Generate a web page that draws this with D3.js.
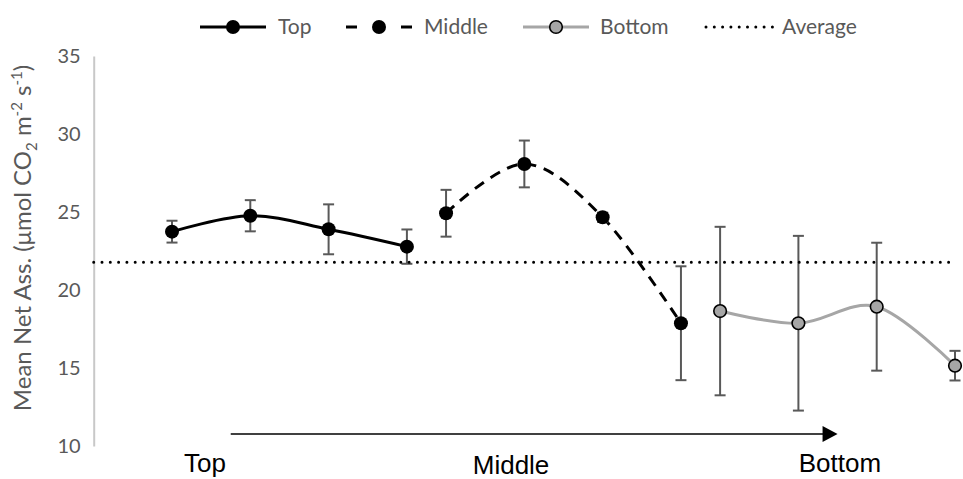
<!DOCTYPE html>
<html>
<head>
<meta charset="utf-8">
<script src="https://cdn.jsdelivr.net/npm/d3@7"></script>
<style>
  body { margin: 0; background: #fff; }
  svg { display: block; }
</style>
</head>
<body>
<script>
const width = 963
const height = 479

// data
const topX = [1, 2, 3, 4]
const topY = [23.74, 24.76, 23.89, 22.78]
const topErr = [0.7, 1.0, 1.6, 1.1]

const midX = [4.5, 5.5, 6.5, 7.5]
const midY = [24.92, 28.08, 24.66, 17.87]
const midErr = [1.5, 1.5, 0.3, 3.65]

const botX = [8, 9, 10, 11]
const botY = [18.65, 17.87, 18.93, 15.15]
const botErr = [5.4, 5.6, 4.1, 0.95]

const average = 21.78
const yTicks = [10, 15, 20, 25, 30, 35]
const legendNames = ["Top", "Middle", "Bottom", "Average"]
const zoneNames = ["Top", "Middle", "Bottom"]
const zoneX = [1.42, 5.33, 9.53]
const arrowX = [1.75, 9.5]

const x = d3.scaleLinear().domain([0, 11]).range([93.7, 955])
const y = d3.scaleLinear().domain([10, 35]).range([446, 56])

const svg = d3.select("body").append("svg")
    .attr("width", width)
    .attr("height", height)

svg.append("rect").attr("width", width).attr("height", height).attr("fill", "#fff")

const font = "Lato, 'Open Sans', sans-serif"
const grey = "#595959"

// y axis
const yAxis = svg.append("g")
    .attr("transform", `translate(${x(0)},0)`)
    .call(d3.axisLeft(y).tickValues(yTicks).tickSize(0).tickPadding(13))
yAxis.select(".domain").attr("stroke", "#c8c8c8").attr("stroke-width", 2)
yAxis.selectAll("text")
    .attr("font-family", font)
    .attr("font-size", 20)
    .attr("fill", grey)

// y axis title
const title = svg.append("text")
    .attr("transform", `translate(31,238) rotate(-90)`)
    .attr("text-anchor", "middle")
    .attr("font-family", font)
    .attr("font-size", 24)
    .attr("fill", grey)
title.append("tspan").text("Mean Net Ass. (μmol CO")
title.append("tspan").text("2").attr("font-size", 15).attr("dy", 6)
title.append("tspan").text(" m").attr("dy", -6)
title.append("tspan").text("-2").attr("font-size", 15).attr("dy", -9)
title.append("tspan").text(" s").attr("dy", 9)
title.append("tspan").text("-1").attr("font-size", 15).attr("dy", -9)
title.append("tspan").text(")").attr("dy", 9)

const smooth = d3.line()
    .x(d => x(d[0]))
    .y(d => y(d[1]))
    .curve(d3.curveCardinal.tension(0))

const series = [
  {xs: topX, ys: topY, err: topErr, stroke: "#000", dash: null, fill: "#000", r: 7, ring: null},
  {xs: midX, ys: midY, err: midErr, stroke: "#000", dash: "11,8", fill: "#000", r: 7, ring: null},
  {xs: botX, ys: botY, err: botErr, stroke: "#a6a6a6", dash: null, fill: "#a6a6a6", r: 6.3, ring: "#000"}
]

series.forEach(s => {
  const pts = s.xs.map((v, i) => [v, s.ys[i], s.err[i]])
  svg.append("path")
      .datum(pts)
      .attr("d", smooth)
      .attr("fill", "none")
      .attr("stroke", s.stroke)
      .attr("stroke-width", 3)
      .attr("stroke-dasharray", s.dash)

  const eb = svg.append("g").attr("stroke", grey).attr("stroke-width", 2)
  pts.forEach(p => {
    const cx = x(p[0])
    eb.append("line").attr("x1", cx).attr("x2", cx).attr("y1", y(p[1] - p[2])).attr("y2", y(p[1] + p[2]))
    eb.append("line").attr("x1", cx - 5.5).attr("x2", cx + 5.5).attr("y1", y(p[1] - p[2])).attr("y2", y(p[1] - p[2]))
    eb.append("line").attr("x1", cx - 5.5).attr("x2", cx + 5.5).attr("y1", y(p[1] + p[2])).attr("y2", y(p[1] + p[2]))
  })

  svg.append("g").selectAll("circle")
    .data(pts)
    .join("circle")
      .attr("cx", d => x(d[0]))
      .attr("cy", d => y(d[1]))
      .attr("r", s.r)
      .attr("fill", s.fill)
      .attr("stroke", s.ring)
      .attr("stroke-width", s.ring ? 1.6 : 0)
})

// average line
svg.append("line")
    .attr("x1", x(0)).attr("x2", x(11))
    .attr("y1", y(average)).attr("y2", y(average))
    .attr("stroke", "#000")
    .attr("stroke-width", 3)
    .attr("stroke-linecap", "round")
    .attr("stroke-dasharray", "0,8.3")

// legend
const legendY = 27
const legendItems = [
  {x0: 200, tx: 278},
  {x0: 346, tx: 424},
  {x0: 523, tx: 600},
  {x0: 704, tx: 782}
]
legendItems.forEach((it, i) => {
  const g = svg.append("g")
  if (i < 3) {
    const s = series[i]
    g.append("line")
        .attr("x1", it.x0).attr("x2", it.x0 + 66)
        .attr("y1", legendY).attr("y2", legendY)
        .attr("stroke", s.stroke).attr("stroke-width", 3)
        .attr("stroke-dasharray", s.dash ? "11,44,11" : null)
    g.append("circle")
        .attr("cx", it.x0 + 33).attr("cy", legendY).attr("r", s.r)
        .attr("fill", s.fill).attr("stroke", s.ring).attr("stroke-width", s.ring ? 1.6 : 0)
  } else {
    g.append("line")
        .attr("x1", it.x0 + 2).attr("x2", it.x0 + 72)
        .attr("y1", legendY).attr("y2", legendY)
        .attr("stroke", "#000").attr("stroke-width", 3)
        .attr("stroke-linecap", "round").attr("stroke-dasharray", "0,8.3")
  }
  g.append("text")
      .attr("x", it.tx).attr("y", legendY)
      .attr("dy", "0.35em")
      .attr("font-family", font)
      .attr("font-size", 21)
      .attr("fill", grey)
      .text(legendNames[i])
})

// direction arrow and zone labels
svg.append("line")
    .attr("x1", x(arrowX[0])).attr("x2", x(arrowX[1]) - 14)
    .attr("y1", 434).attr("y2", 434)
    .attr("stroke", "#404040").attr("stroke-width", 2)
svg.append("path")
    .attr("d", `M${x(arrowX[1]) - 15},426L${x(arrowX[1])},434L${x(arrowX[1]) - 15},442Z`)
    .attr("fill", "#000")

svg.selectAll(".zone")
  .data(zoneNames)
  .join("text")
    .attr("class", "zone")
    .attr("x", (d, i) => x(zoneX[i]))
    .attr("y", (d, i) => i === 1 ? 474 : 472)
    .attr("text-anchor", "middle")
    .attr("font-family", "'Liberation Sans', Arial, sans-serif")
    .attr("font-size", 26)
    .attr("fill", "#000")
    .text(d => d)
</script>
</body>
</html>
